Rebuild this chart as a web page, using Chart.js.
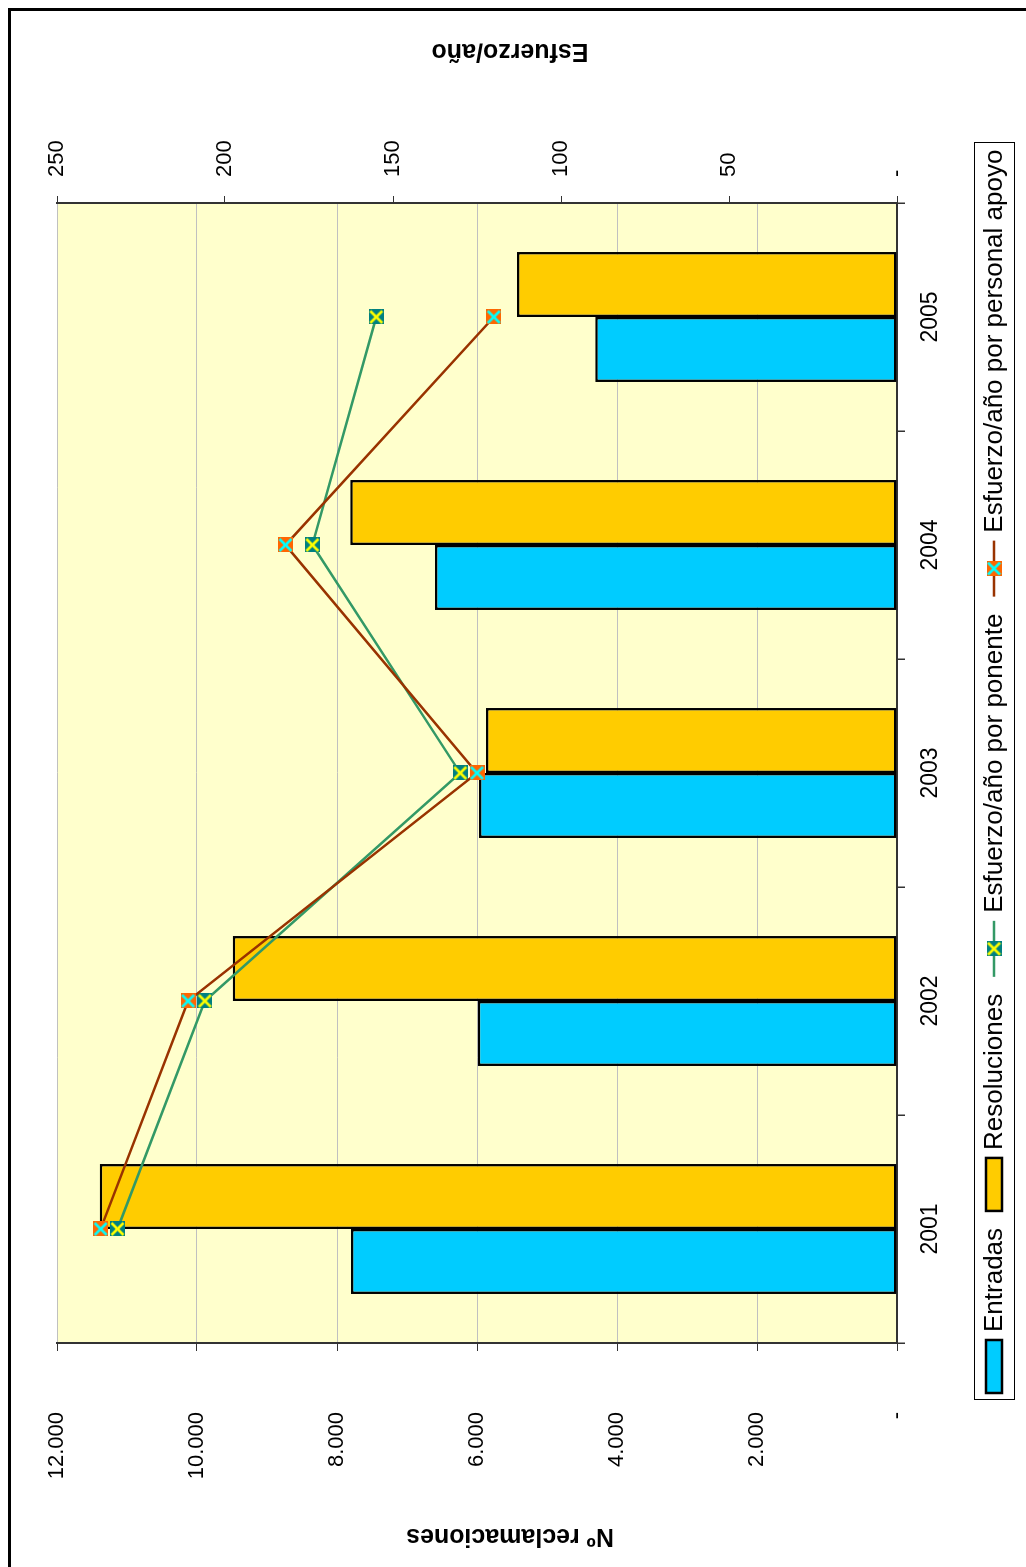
<!DOCTYPE html>
<html>
<head>
<meta charset="utf-8">
<script src="https://cdn.jsdelivr.net/npm/chart.js@4.4.1/dist/chart.umd.min.js"></script>
<style>
  html, body { margin: 0; padding: 0; background: #fff; }
  #page { position: relative; width: 1026px; height: 1567px; overflow: hidden; }
  #chart { position: absolute; left: 0; top: 0; transform-origin: 0 0; transform: translateY(1567px) rotate(-90deg); }
  #frame { position: absolute; left: 8px; top: 8px; width: 1030px; height: 1570px; border-top: 3px solid #000; border-left: 3px solid #000; }
</style>
</head>
<body>
<div id="page">
  <canvas id="chart" width="1567" height="1026"></canvas>
  <div id="frame"></div>
</div>
<script>
// data
const years = ["2001", "2002", "2003", "2004", "2005"];
const entradas = [7800, 5990, 5970, 6600, 4310];
const resoluciones = [11390, 9490, 5870, 7810, 5430];
const esfuerzoPonente = [232, 206, 130, 174, 155];
const esfuerzoApoyo = [237, 211, 125, 182, 120];

const reclamMax = 12000;
const reclamStep = 2000;
const esfuerzoMax = 250;
const esfuerzoStep = 50;

const leftTitle = "Nº reclamaciones";
const rightTitle = "Esfuerzo/año";

const FONT = "'Liberation Sans', Arial, sans-serif";
Chart.defaults.font.family = FONT;
Chart.defaults.color = "#000";

function miles(value) {
  if (value === 0) return "-";
  return String(value).replace(/\B(?=(\d{3})+(?!\d))/g, ".");
}

function makeMarker(fill, cross) {
  const c = document.createElement("canvas");
  c.width = 15;
  c.height = 15;
  const g = c.getContext("2d");
  g.fillStyle = fill;
  g.fillRect(0, 0, 15, 15);
  g.strokeStyle = cross;
  g.lineWidth = 2.5;
  g.beginPath();
  g.moveTo(1.5, 1.5); g.lineTo(13.5, 13.5);
  g.moveTo(13.5, 1.5); g.lineTo(1.5, 13.5);
  g.stroke();
  return c;
}

const markerPonente = makeMarker("#008080", "#FFFF00");
const markerApoyo = makeMarker("#FF6600", "#00FFFF");

// fixed axis widths, and no label padding pushing the plot area around
function fixWidth(width) {
  return (scale) => {
    scale.width = width;
    scale.paddingTop = 0;
    scale.paddingBottom = 0;
  };
}

const plotBackground = {
  id: "plotBackground",
  beforeDraw(chart) {
    const { ctx, chartArea } = chart;
    ctx.save();
    ctx.fillStyle = "#FFFFCC";
    ctx.fillRect(chartArea.left, chartArea.top, chartArea.width, chartArea.height);
    ctx.restore();
  },
};

const axisTitles = {
  id: "axisTitles",
  afterDraw(chart) {
    const { ctx, chartArea } = chart;
    const cy = (chartArea.top + chartArea.bottom) / 2 + 33;
    ctx.save();
    ctx.font = `bold 25px ${FONT}`;
    ctx.fillStyle = "#000";
    ctx.textAlign = "center";
    ctx.textBaseline = "middle";
    [[31, leftTitle], [chart.width - 51, rightTitle]].forEach(([cx, text]) => {
      ctx.save();
      ctx.translate(cx, cy);
      ctx.rotate(-Math.PI / 2);
      ctx.fillText(text, 0, 0);
      ctx.restore();
    });
    ctx.restore();
  },
};

const boxLegend = {
  id: "boxLegend",
  afterDraw(chart) {
    const { ctx, chartArea } = chart;
    const left = chartArea.left - 57;
    const right = chartArea.right + 60;
    const top = chartArea.bottom + 77;
    const height = 40;
    const cy = top + height / 2;
    ctx.save();
    ctx.strokeStyle = "#000";
    ctx.lineWidth = 1;
    ctx.strokeRect(left + 0.5, top + 0.5, right - left, height);
    ctx.font = `26px ${FONT}`;
    ctx.textBaseline = "middle";
    ctx.textAlign = "left";
    let x = left + 7;
    chart.data.datasets.forEach((ds) => {
      if (ds.type === "bar") {
        ctx.fillStyle = ds.backgroundColor;
        ctx.fillRect(x, cy - 8, 53, 16);
        ctx.strokeStyle = "#000";
        ctx.lineWidth = 2.5;
        ctx.strokeRect(x, cy - 8, 53, 16);
        x += 53 + 8;
      } else {
        ctx.strokeStyle = ds.borderColor;
        ctx.lineWidth = ds.borderWidth;
        ctx.beginPath();
        ctx.moveTo(x, cy);
        ctx.lineTo(x + 56, cy);
        ctx.stroke();
        ctx.drawImage(ds.pointStyle, x + 28 - 7.5, cy - 7.5);
        x += 56 + 8;
      }
      ctx.fillStyle = "#000";
      ctx.fillText(ds.label, x, cy + 1);
      x += ctx.measureText(ds.label).width + 17;
    });
    ctx.restore();
  },
};

new Chart(document.getElementById("chart"), {
  data: {
    labels: years,
    datasets: [
      {
        type: "bar",
        label: "Entradas",
        data: entradas,
        backgroundColor: "#00CCFF",
        borderColor: "#000",
        borderWidth: 2.5,
        borderSkipped: false,
        categoryPercentage: 0.57,
        barPercentage: 1,
        yAxisID: "y",
        order: 2,
      },
      {
        type: "bar",
        label: "Resoluciones",
        data: resoluciones,
        backgroundColor: "#FFCC00",
        borderColor: "#000",
        borderWidth: 2.5,
        borderSkipped: false,
        categoryPercentage: 0.57,
        barPercentage: 1,
        yAxisID: "y",
        order: 2,
      },
      {
        type: "line",
        label: "Esfuerzo/año por ponente",
        data: esfuerzoPonente,
        borderColor: "#339966",
        borderWidth: 2.5,
        pointStyle: markerPonente,
        tension: 0,
        yAxisID: "y1",
        order: 1,
      },
      {
        type: "line",
        label: "Esfuerzo/año por personal apoyo",
        data: esfuerzoApoyo,
        borderColor: "#993300",
        borderWidth: 2.5,
        pointStyle: markerApoyo,
        tension: 0,
        yAxisID: "y1",
        order: 0,
      },
    ],
  },
  options: {
    responsive: false,
    animation: false,
    devicePixelRatio: 1,
    layout: { padding: { top: 57, bottom: 69, left: 0, right: 0 } },
    plugins: { legend: { display: false }, tooltip: { enabled: false } },
    scales: {
      x: {
        offset: true,
        grid: { offset: true, drawOnChartArea: false, tickLength: 8, color: "#333", lineWidth: 1.5 },
        border: { color: "#333", width: 2 },
        ticks: { font: { size: 23 }, color: "#000", padding: 12 },
        afterFit: (scale) => { scale.height = 60; },
      },
      y: {
        position: "left",
        min: 0,
        max: reclamMax,
        ticks: { stepSize: reclamStep, callback: miles, font: { size: 22 }, color: "#000", padding: 61 },
        grid: { color: "#c0c0c0", lineWidth: 1, tickColor: "#333", tickLength: 8 },
        border: { color: "#333", width: 2 },
        afterFit: fixWidth(224),
      },
      y1: {
        position: "right",
        min: 0,
        max: esfuerzoMax,
        ticks: { stepSize: esfuerzoStep, callback: (v) => (v === 0 ? "-" : String(v)), font: { size: 22 }, color: "#000", padding: 19 },
        grid: { drawOnChartArea: false, tickColor: "#333", tickLength: 7 },
        border: { color: "#333", width: 2 },
        afterFit: fixWidth(203),
      },
    },
  },
  plugins: [plotBackground, axisTitles, boxLegend],
});
</script>
</body>
</html>
